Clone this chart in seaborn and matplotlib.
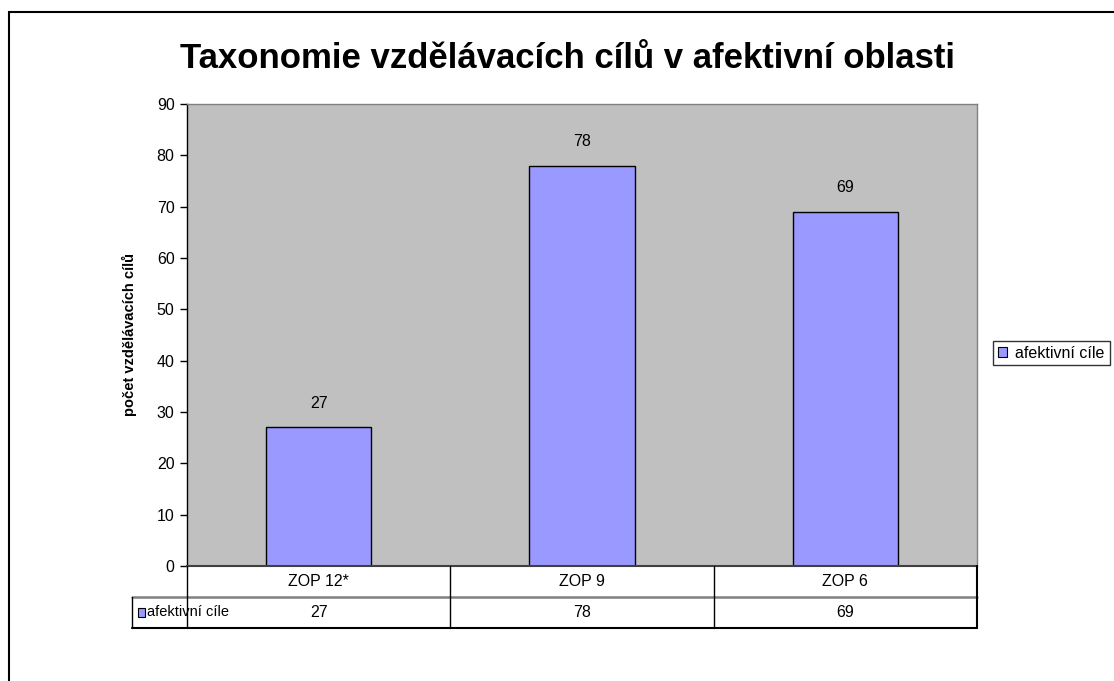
import matplotlib
matplotlib.use("Agg")
import matplotlib.pyplot as plt
import seaborn as sns
import pandas as pd
from matplotlib.patches import Rectangle

categories = ["ZOP 12*", "ZOP 9", "ZOP 6"]
values = [27, 78, 69]
series_name = "afektivní cíle"
title = "Taxonomie vzdělávacích cílů v afektivní oblasti"
ylabel = "počet vzdělávacích cílů"
yticks = list(range(0, 91, 10))

sns.set_style("white")
plt.rcParams['font.family'] = ['Liberation Sans', 'DejaVu Sans']
plt.rcParams['text.color'] = 'black'
plt.rcParams['axes.labelcolor'] = 'black'
plt.rcParams['xtick.color'] = 'black'
plt.rcParams['ytick.color'] = 'black'

W, H = 1114, 681
fig = plt.figure(figsize=(W / 100, H / 100), dpi=100)

def fx(px):
    return px / W

def fy(py):
    return 1 - py / H

# outer chart border
fig.add_artist(Rectangle((fx(9), fy(700)), fx(1200), fy(12) - fy(700), transform=fig.transFigure,
                         fill=False, edgecolor='black', linewidth=1.5))

L, R, T, B = 187, 977, 104, 566
ax = fig.add_axes([fx(L), fy(B), fx(R) - fx(L), fy(T) - fy(B)])
ax.set_facecolor('#C0C0C0')

df = pd.DataFrame({"cat": categories, "val": values})
sns.barplot(data=df, x="cat", y="val", ax=ax, color='#9999FF', saturation=1,
            width=0.4, edgecolor='black', linewidth=1)
ax.set_xlim(-0.5, 2.5)
ax.set_ylim(0, 90)
ax.set_yticks(yticks)
ax.set_yticklabels([str(t) for t in yticks], fontsize=11.5)
ax.set_xticks([])
ax.set_xlabel("")
ax.set_ylabel(ylabel, fontsize=10.5, fontweight='bold', labelpad=14)
ax.tick_params(axis='y', direction='out', length=5, width=1, color='black', pad=4, left=True)
for s in ['top', 'right']:
    ax.spines[s].set_color('#808080')
    ax.spines[s].set_linewidth(1)
ax.spines['left'].set_color('black')
ax.spines['left'].set_linewidth(1)
ax.spines['bottom'].set_color('#404040')
ax.spines['bottom'].set_linewidth(1.5)

for i, v in enumerate(values):
    ax.annotate(str(v), (i, v), xytext=(0, 12), textcoords='offset points',
                ha='center', va='bottom', fontsize=11.5)

fig.text(0.5 * (fx(178) + fx(958)), fy(58), title, ha='center', va='center',
         fontsize=25, fontweight='bold')

# data table below the axis
TL, TB = 132, 628
tax = fig.add_axes([fx(TL), fy(TB), fx(R) - fx(TL), fy(B) - fy(TB)])
unit = (R - L) / 3.0
x0 = -0.5 - (L - TL) / unit
tax.set_xlim(x0, 2.5)
tax.set_ylim(0, 2)
tax.axis('off')
# horizontal lines
tax.plot([x0, 2.5], [0, 0], color='black', lw=1.5, clip_on=False)
tax.plot([x0, 2.5], [1, 1], color='#808080', lw=1.8, clip_on=False)
# vertical lines
for xb in [-0.5, 0.5, 1.5]:
    tax.plot([xb, xb], [0, 2], color='black', lw=1, clip_on=False)
tax.plot([2.5, 2.5], [0, 2], color='black', lw=1.5, clip_on=False)
tax.plot([x0, x0], [0, 1], color='black', lw=1, clip_on=False)
for i, (c, v) in enumerate(zip(categories, values)):
    tax.text(i, 1.5, c, ha='center', va='center', fontsize=11.5)
    tax.text(i, 0.5, str(v), ha='center', va='center', fontsize=11.5)
# row header with key
tax.add_patch(Rectangle((x0 + 0.022, 0.36), 0.026, 0.28, facecolor='#9999FF',
                        edgecolor='black', lw=0.8, clip_on=False))
tax.text(x0 + 0.058, 0.5, series_name, ha='left', va='center', fontsize=10.5)

# legend at right
handle = Rectangle((0, 0), 1, 1, facecolor='#9999FF', edgecolor='black', lw=0.8)
fig.legend([handle], [series_name], loc='center left', bbox_to_anchor=(fx(993), fy(353)),
           fontsize=11.5, frameon=True, fancybox=False, edgecolor='black',
           handlelength=0.6, handleheight=0.6, handletextpad=0.5, borderpad=0.3,
           borderaxespad=0)

fig.savefig("out.png", dpi=100, facecolor='white')
